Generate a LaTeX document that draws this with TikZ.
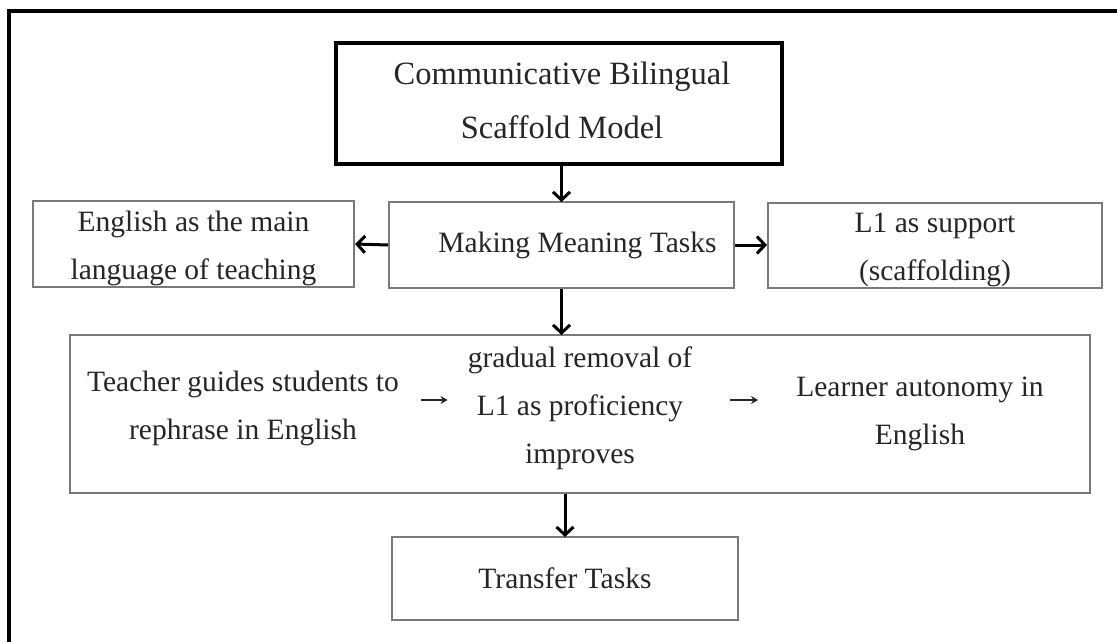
\documentclass[tikz,border=0pt]{standalone}
\usepackage{fontspec}
\setmainfont{Liberation Serif}
\usetikzlibrary{arrows.meta}
\definecolor{txt}{HTML}{262626}
\definecolor{boxgray}{HTML}{7A7A7A}
\newcommand{\tallstrut}[1]{\rule{0pt}{#1}}
\newcommand{\deepstrut}[1]{\rule[-#1]{0pt}{#1}}
\tikzset{
  thinbox/.style={draw=boxgray, line width=2pt, rectangle, inner sep=0pt, align=center,
     text=txt, font=\fontsize{29.5}{48}\selectfont},
  thickbox/.style={draw=black, line width=4pt, rectangle, inner sep=0pt, align=center,
     text=txt, font=\fontsize{32.5}{54}\selectfont},
  plaintext/.style={inner sep=0pt, align=center, text=txt, font=\fontsize{29.5}{48}\selectfont},
  bigarrow/.style={draw=black, line width=3pt, -{Straight Barb[length=8pt,width=17pt]}},
  smallarrow/.style={draw=txt, line width=1.6pt, -{Stealth[length=7pt,width=8pt]}}
}
\begin{document}
\begin{tikzpicture}[x=1pt,y=-1pt]
\useasboundingbox (0,0) rectangle (1117,641);
\fill[white] (0,0) rectangle (1117,641);
\begin{scope}
\clip (0,0) rectangle (1117,641);
\draw[line width=4pt] (9,11) rectangle (1140,670);
\end{scope}

\node[thickbox, minimum width=446pt, minimum height=121pt] (top) at (559,103.5)
  {\hspace*{6pt}Communicative Bilingual\\\hspace*{6pt}Scaffold Model\deepstrut{7pt}};
\node[thinbox, minimum width=321pt, minimum height=86pt] (left) at (193.5,244)
  {\tallstrut{30pt}English as the main\\language of teaching};
\node[thinbox, minimum width=345pt, minimum height=86pt] (mm) at (561.5,245)
  {\hspace*{32pt}Making Meaning Tasks};
\node[thinbox, minimum width=334pt, minimum height=85pt] (right) at (935,245)
  {\tallstrut{30pt}L1 as support\\(scaffolding)};
\node[thinbox, minimum width=1020pt, minimum height=158pt] (big) at (580,414) {};
\node[plaintext] (teacher) at (243,408) {Teacher guides students to\\rephrase in English};
\node[plaintext] (gradual) at (580,408) {gradual removal of\\L1 as proficiency\\improves};
\node[plaintext] (learner) at (920,414) {Learner autonomy in\\English};
\node[thinbox, minimum width=346pt, minimum height=83pt] (transfer) at (565,578.5)
  {Transfer Tasks};

\draw[bigarrow] (top.south -| mm.north) -- ([yshift=-1pt]mm.north);
\draw[bigarrow] (mm.west) -- (left.east);
\draw[bigarrow] (mm.east) -- (right.west);
\draw[bigarrow] (mm.south) -- ([yshift=-1pt]mm.south |- big.north);
\draw[bigarrow] (transfer.north |- big.south) -- ([yshift=-1pt]transfer.north);
\draw[smallarrow, shorten <=22pt, shorten >=20pt] (teacher.east |- 0,400) -- (gradual.west |- 0,400);
\draw[smallarrow, shorten <=38pt, shorten >=38pt] (gradual.east |- 0,400) -- (learner.west |- 0,400);
\end{tikzpicture}
\end{document}
